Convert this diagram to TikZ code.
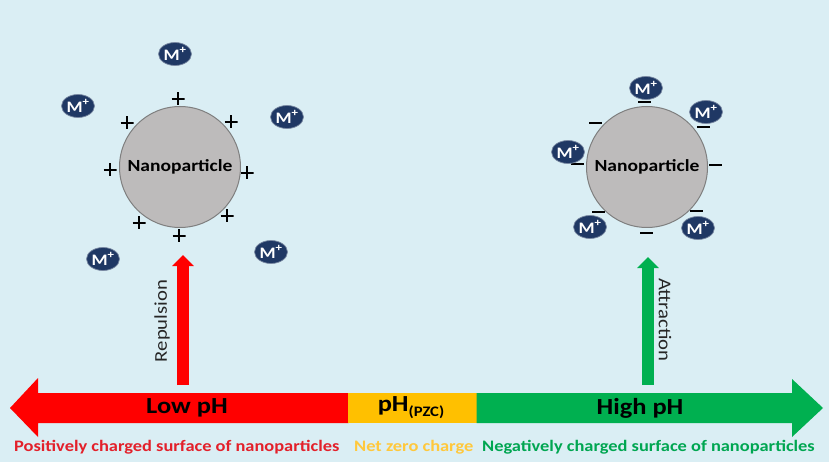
\documentclass[tikz,border=0pt]{standalone}
\usepackage{fontspec}
\setmainfont{Carlito}[FakeStretch=1.15]
\usetikzlibrary{shapes.geometric,arrows.meta}
\definecolor{bg}{HTML}{DAEEF4}
\definecolor{npfill}{HTML}{BDBBBB}
\definecolor{npdraw}{HTML}{7F7F7F}
\definecolor{navy}{HTML}{1F3864}
\definecolor{barred}{HTML}{FF0000}
\definecolor{baryel}{HTML}{FFC000}
\definecolor{bargrn}{HTML}{00B050}
\definecolor{lblred}{HTML}{E3202A}
\definecolor{lblyel}{HTML}{FFC83C}
\definecolor{lblgrn}{HTML}{00A651}
\tikzset{
  particle/.style={circle, minimum size=121pt, inner sep=0pt, fill=npfill, draw=npdraw, line width=1pt,
    font=\fontsize{17}{19}\selectfont\bfseries, text=black},
  mion/.style={ellipse, minimum width=33pt, minimum height=23pt, inner sep=0pt, fill=navy, draw=navy!60!white, line width=0.7pt,
    text=white, font=\fontsize{16}{16}\selectfont\bfseries},
  plussign/.style={rectangle, inner sep=0pt, minimum size=13pt,
    path picture={\draw[black, line width=2.1pt]
      (path picture bounding box.north) -- (path picture bounding box.south)
      (path picture bounding box.west) -- (path picture bounding box.east);}},
  minussign/.style={rectangle, inner sep=0pt, minimum width=13pt, minimum height=2.4pt, fill=black},
  barlabel/.style={inner sep=0pt, font=\fontsize{23}{24}\selectfont\bfseries, text=black},
  bottomlabel/.style={inner sep=0pt, anchor=west, font=\fontsize{16}{18}\selectfont\bfseries},
  sidelabel/.style={inner sep=0pt, font=\fontsize{18}{20}\selectfont, text=black!85},
  uparrow/.style={line width=11.5pt, -{Triangle[width=21pt,length=11pt]}}
}
\begin{document}
\begin{tikzpicture}[x=1pt,y=-1pt]
\fill[bg] (0,0) rectangle (829,462);
\useasboundingbox (0,0) rectangle (829,462);

% bottom pH scale
\fill[barred] (10,408) -- (38,378) -- (38,393) -- (348.5,393) -- (348.5,423) -- (38,423) -- (38,437) -- cycle;
\fill[baryel] (348,393) rectangle (477,423);
\fill[bargrn] (476.5,393) -- (792,393) -- (792,379) -- (823,408) -- (792,437) -- (792,423) -- (476.5,423) -- cycle;

\node[barlabel] (low) at (187,408) {Low pH};
\node[barlabel] (pzc) at (411,408) {pH{\fontsize{14.5}{15}\selectfont\raisebox{-5pt}{(PZC)}}};
\node[barlabel] (high) at (640,408) {High pH};

\node[bottomlabel, text=lblred] (lpos) at (14,447) {Positively charged surface of nanoparticles};
\node[bottomlabel, text=lblyel] (lzero) at (354,447) {Net zero charge};
\node[bottomlabel, text=lblgrn] (lneg) at (482,447) {Negatively charged surface of nanoparticles};

% left nanoparticle
\node[particle] (np1) at (180,167) {Nanoparticle};
\node[plussign] (p1) at (178,99) {};
\node[plussign] (p2) at (127,123) {};
\node[plussign] (p3) at (231,122) {};
\node[plussign] (p4) at (110,170) {};
\node[plussign] (p5) at (247,173) {};
\node[plussign] (p6) at (227,216) {};
\node[plussign] (p7) at (139,223) {};
\node[plussign] (p8) at (179,236) {};
\node[mion] (ma1) at (175,54) {M\textsuperscript{+}};
\node[mion] (ma2) at (78,106) {M\textsuperscript{+}};
\node[mion] (ma3) at (287,117) {M\textsuperscript{+}};
\node[mion] (ma4) at (103,259) {M\textsuperscript{+}};
\node[mion] (ma5) at (271,252) {M\textsuperscript{+}};

% right nanoparticle
\node[particle] (np2) at (647,167) {Nanoparticle};
\node[minussign] (n1) at (644,102) {};
\node[minussign] (n2) at (595,123) {};
\node[minussign] (n3) at (703,127) {};
\node[minussign] (n4) at (577,164) {};
\node[minussign] (n5) at (715,165) {};
\node[minussign] (n6) at (598,212) {};
\node[minussign] (n7) at (696,211) {};
\node[minussign] (n8) at (646,233) {};
\node[mion] (mb1) at (646,88) {M\textsuperscript{+}};
\node[mion] (mb2) at (706,112) {M\textsuperscript{+}};
\node[mion] (mb3) at (568,152) {M\textsuperscript{+}};
\node[mion] (mb4) at (590,227) {M\textsuperscript{+}};
\node[mion] (mb5) at (698,228) {M\textsuperscript{+}};

% vertical arrows
\coordinate (rbase) at (183,385);
\coordinate (rtip) at (183,255);
\coordinate (gbase) at (648,385);
\coordinate (gtip) at (648,257);
\draw[uparrow, barred] (rbase) -- (rtip);
\draw[uparrow, bargrn] (gbase) -- (gtip);
\node[sidelabel, rotate=90] (rep) at (162,321) {Repulsion};
\node[sidelabel, rotate=-90] (att) at (665,320) {Attraction};
\end{tikzpicture}
\end{document}
